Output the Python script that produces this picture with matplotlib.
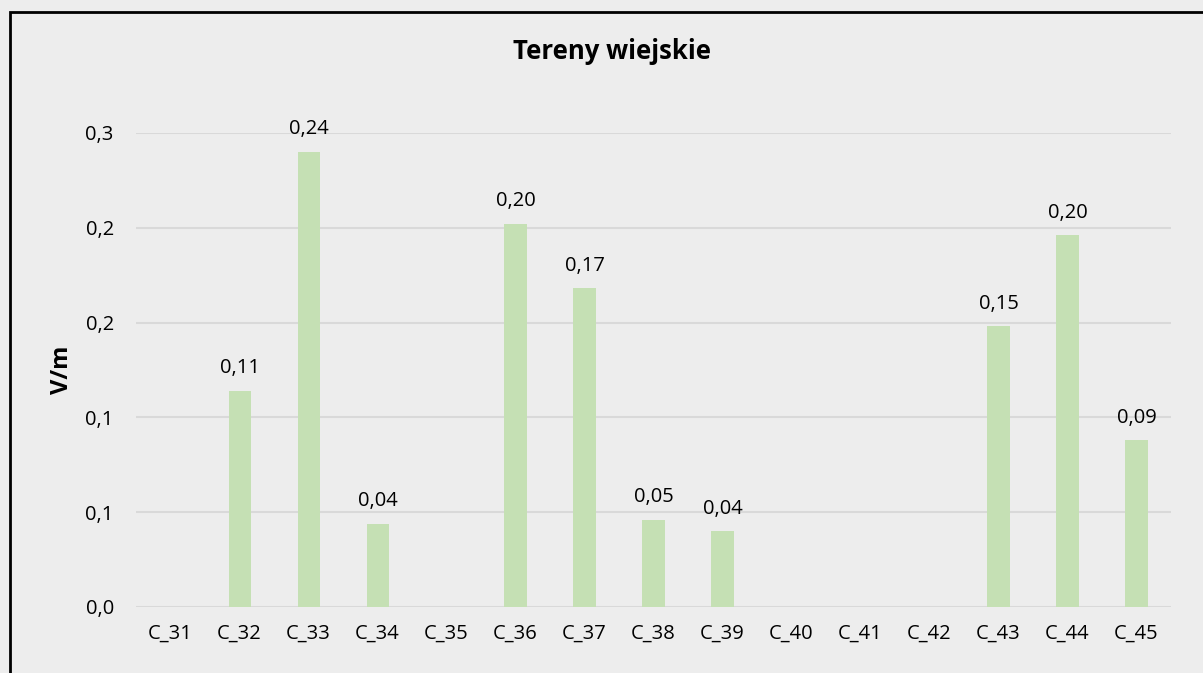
import matplotlib.pyplot as plt
from matplotlib.patches import Rectangle

plt.rcParams['font.family'] = ['Open Sans', 'DejaVu Sans']

punkty = ["C_31", "C_32", "C_33", "C_34", "C_35", "C_36", "C_37", "C_38",
          "C_39", "C_40", "C_41", "C_42", "C_43", "C_44", "C_45"]
wartosci = [0, 0.114, 0.240, 0.044, 0, 0.202, 0.168, 0.046,
            0.040, 0, 0, 0, 0.148, 0.196, 0.088]
etykiety = ["", "0,11", "0,24", "0,04", "", "0,20", "0,17", "0,05",
            "0,04", "", "", "", "0,15", "0,20", "0,09"]
y_ticki = [0, 0.05, 0.10, 0.15, 0.20, 0.25]
y_etykiety = ["0,0", "0,1", "0,1", "0,2", "0,2", "0,3"]

tlo = "#EDEDED"
fig = plt.figure(figsize=(12.03, 6.73), dpi=100, facecolor=tlo)
ax = fig.add_axes([0.1131, 0.0981, 0.8603, 0.7043], facecolor=tlo)

x = range(len(punkty))
slupki = ax.bar(x, wartosci, width=0.32, color="#C5E0B4", zorder=3)

for s, et in zip(slupki, etykiety):
    if et:
        ax.annotate(et, (s.get_x() + s.get_width() / 2, s.get_height()),
                    xytext=(0, 9), textcoords="offset points",
                    ha="center", va="bottom", fontsize=14.5, color="#000000")

ax.set_xlim(-0.5, len(punkty) - 0.5)
ax.set_ylim(0, 0.25)
ax.set_xticks(list(x))
ax.set_xticklabels(punkty, fontsize=14.5)
ax.tick_params(axis="both", length=0, colors="#000000")
ax.set_yticks(y_ticki)
ax.set_yticklabels(y_etykiety, fontsize=14.5)
ax.tick_params(axis="x", pad=12)
ax.tick_params(axis="y", pad=16)
ax.grid(axis="y", color="#D9D9D9", linewidth=1.5, zorder=0)
for sp in ax.spines.values():
    sp.set_visible(False)

ax.set_ylabel("V/m", fontsize=17, fontweight="bold", labelpad=8)
fig.text(0.509, 0.912, "Tereny wiejskie", ha="center", va="baseline",
         fontsize=18.5, fontweight="bold")

fig.patches.append(Rectangle((10 / 1203, -0.1), 1.2, 1.1 - 12 / 673,
                             transform=fig.transFigure, fill=False,
                             edgecolor="black", linewidth=2))

fig.savefig("out.png", dpi=100, facecolor=tlo)
